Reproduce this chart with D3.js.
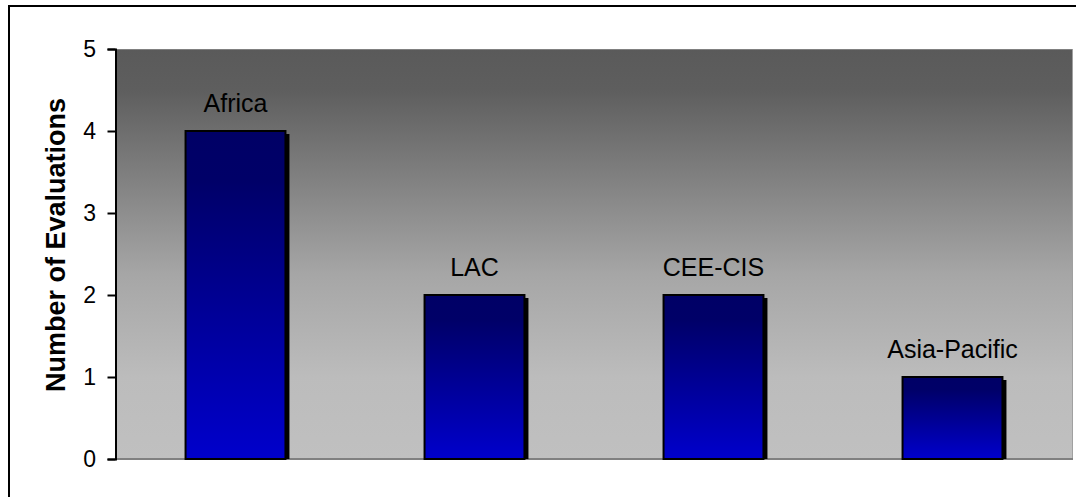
<!DOCTYPE html>
<html>
<head>
<meta charset="utf-8">
<script src="https://cdn.jsdelivr.net/npm/d3@7"></script>
<style>
  body { margin: 0; background: #fff; }
  svg { display: block; font-family: Arial, "Liberation Sans", sans-serif; }
</style>
</head>
<body>
<div id="chart"></div>
<script>
const regions = ["Africa", "LAC", "CEE-CIS", "Asia-Pacific"];
const evaluations = [4, 2, 2, 1];
const yTicks = [0, 1, 2, 3, 4, 5];

const width = 1076, height = 497;
const plot = { left: 116, right: 1072, top: 49, bottom: 459 };

const svg = d3.select("#chart").append("svg")
    .attr("width", width)
    .attr("height", height);

const defs = svg.append("defs");

// plot area background gradient (dark grey top -> light grey bottom)
const bg = defs.append("linearGradient")
    .attr("id", "bgGrad").attr("x1", 0).attr("y1", 0).attr("x2", 0).attr("y2", 1);
[[0, "#5a5a5a"], [0.1, "#5e5e5e"], [0.55, "#a6a6a6"], [0.8, "#bcbcbc"], [1, "#c0c0c0"]]
    .forEach(s => bg.append("stop").attr("offset", s[0]).attr("stop-color", s[1]));

// bar gradient, navy on top -> blue at bottom
const barGrad = defs.append("linearGradient")
    .attr("id", "barGrad").attr("x1", 0).attr("y1", 0).attr("x2", 0).attr("y2", 1);
[[0, "#000066"], [0.15, "#000068"], [1, "#0000cc"]]
    .forEach(s => barGrad.append("stop").attr("offset", s[0]).attr("stop-color", s[1]));

// outer frame (cut at right and bottom like the original)
svg.append("rect")
    .attr("x", 9).attr("y", 6)
    .attr("width", width).attr("height", height)
    .attr("fill", "none").attr("stroke", "#000").attr("stroke-width", 2);

const x = d3.scaleBand()
    .domain(regions)
    .range([plot.left, plot.right])
    .paddingInner(0.582)
    .paddingOuter(0.291);

const y = d3.scaleLinear()
    .domain([0, 5])
    .range([plot.bottom, plot.top]);

// background
svg.append("rect")
    .attr("x", plot.left).attr("y", plot.top)
    .attr("width", plot.right - plot.left).attr("height", plot.bottom - plot.top)
    .attr("fill", "url(#bgGrad)");

// light edges of the plot area
svg.append("line")
    .attr("x1", plot.left).attr("x2", plot.right)
    .attr("y1", plot.top + 0.5).attr("y2", plot.top + 0.5)
    .attr("stroke", "#808080").attr("stroke-width", 1);
svg.append("line")
    .attr("x1", plot.right + 0.5).attr("x2", plot.right + 0.5)
    .attr("y1", plot.top).attr("y2", plot.bottom)
    .attr("stroke", "#a0a0a0").attr("stroke-width", 1);
svg.append("line")
    .attr("x1", plot.left).attr("x2", plot.right + 1)
    .attr("y1", plot.bottom).attr("y2", plot.bottom)
    .attr("stroke", "#808080").attr("stroke-width", 2);

// shadows
svg.append("g").selectAll("rect")
    .data(evaluations)
    .join("rect")
    .attr("x", (d, i) => x(regions[i]) + 4)
    .attr("y", d => y(d) + 3)
    .attr("width", x.bandwidth())
    .attr("height", d => plot.bottom - y(d) - 3)
    .attr("fill", "#000");

// bars
svg.append("g").selectAll("rect")
    .data(evaluations)
    .join("rect")
    .attr("x", (d, i) => x(regions[i]))
    .attr("y", d => y(d))
    .attr("width", x.bandwidth())
    .attr("height", d => plot.bottom - y(d))
    .attr("fill", "url(#barGrad)")
    .attr("stroke", "#000")
    .attr("stroke-width", 2);

// data labels (region names)
svg.append("g").selectAll("text")
    .data(evaluations)
    .join("text")
    .attr("x", (d, i) => x(regions[i]) + x.bandwidth() / 2)
    .attr("y", d => y(d) - 19)
    .attr("text-anchor", "middle")
    .attr("font-size", 25)
    .attr("fill", "#000")
    .text((d, i) => regions[i]);

// y axis: line + ticks from d3.axisLeft, labels drawn separately
const yAxis = d3.axisLeft(y)
    .tickValues(yTicks)
    .tickSize(8)
    .tickFormat("");

const gy = svg.append("g")
    .attr("transform", `translate(${plot.left - 0.5},0)`)
    .call(yAxis);
gy.select(".domain").attr("stroke", "#000").attr("stroke-width", 2);
gy.selectAll(".tick line").attr("stroke", "#000").attr("stroke-width", 2);

svg.append("g").selectAll("text")
    .data(yTicks)
    .join("text")
    .attr("x", plot.left - 20)
    .attr("y", d => y(d))
    .attr("dy", "0.36em")
    .attr("text-anchor", "end")
    .attr("font-size", 23)
    .attr("fill", "#000")
    .text(d => d);

// y axis title
svg.append("text")
    .attr("transform", `translate(65,${(plot.top + plot.bottom) / 2 - 9}) rotate(-90)`)
    .attr("text-anchor", "middle")
    .attr("font-size", 27)
    .attr("font-weight", "bold")
    .attr("fill", "#000")
    .text("Number of Evaluations");
</script>
</body>
</html>
